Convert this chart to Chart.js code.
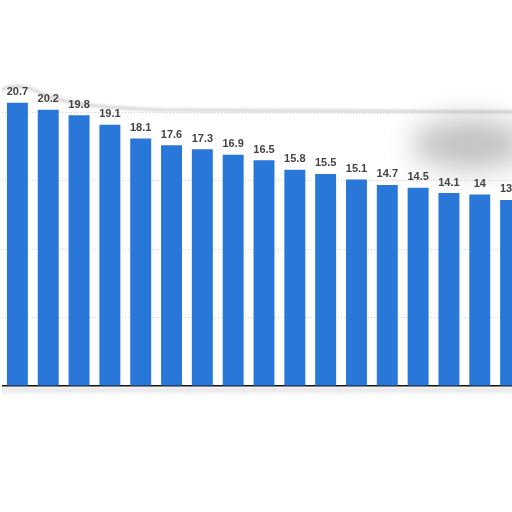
<!DOCTYPE html>
<html>
<head>
<meta charset="utf-8">
<script src="https://cdn.jsdelivr.net/npm/chart.js@4"></script>
<style>
    html, body { margin: 0; padding: 0; background: #fff; overflow: hidden; width: 512px; height: 512px; }
    #wrap { position: absolute; left: 2px; top: 44px; width: 524px; height: 352px; }
</style>
</head>
<body>
<div id="wrap"><canvas id="chart" width="524" height="352"></canvas></div>
<script>
// значения столбцов слева направо (последний обрезан краем картинки)
const categories = ['1', '2', '3', '4', '5', '6', '7', '8', '9', '10', '11', '12', '13', '14', '15', '16', '17']
const values = [20.7, 20.2, 19.8, 19.1, 18.1, 17.6, 17.3, 16.9, 16.5, 15.8, 15.5, 15.1, 14.7, 14.5, 14.1, 14, 13.6]
const yTicks = [0, 5, 10, 15, 20, 25]

const barColor = '#2a77da'

// подписи значений над столбцами
const valueLabels = {
    id: 'valueLabels',
    afterDatasetsDraw(chart) {
        const ctx = chart.ctx
        const meta = chart.getDatasetMeta(0)
        ctx.save()
        ctx.font = 'bold 11px "Liberation Sans", Arial, sans-serif'
        ctx.fillStyle = '#444'
        ctx.textAlign = 'center'
        ctx.textBaseline = 'bottom'
        meta.data.forEach((bar, i) => {
            ctx.fillText(String(values[i]), bar.x, bar.y - 5)
        })
        ctx.restore()
    }
}

// серая размытая тень сверху и под осью (как на исходной картинке)
const smudge = {
    id: 'smudge',
    beforeDraw(chart) {
        const ctx = chart.ctx
        const area = chart.chartArea
        ctx.save()
        ctx.filter = 'blur(1.5px)'
        ctx.strokeStyle = 'rgba(150,150,150,0.5)'
        ctx.lineWidth = 2.5
        ctx.beginPath()
        ctx.moveTo(-2, 46)
        ctx.bezierCurveTo(12, 40, 25, 41, 40, 50)
        ctx.bezierCurveTo(70, 62, 110, 64, 160, 66)
        ctx.lineTo(530, 68)
        ctx.stroke()
        ctx.filter = 'blur(14px)'
        ctx.fillStyle = 'rgba(135,135,135,0.5)'
        ctx.beginPath()
        ctx.ellipse(468, 100, 58, 26, 0, 0, Math.PI * 2)
        ctx.fill()
        ctx.filter = 'blur(2px)'
        ctx.strokeStyle = 'rgba(170,170,170,0.5)'
        ctx.lineWidth = 3
        ctx.beginPath()
        ctx.moveTo(-5, area.bottom + 4)
        ctx.lineTo(530, area.bottom + 4)
        ctx.stroke()
        ctx.restore()
    }
}

const ctx = document.getElementById('chart').getContext('2d')

new Chart(ctx, {
    type: 'bar',
    data: {
        labels: categories,
        datasets: [{
            data: values,
            backgroundColor: barColor,
            barPercentage: 0.68,
            categoryPercentage: 1
        }]
    },
    options: {
        responsive: false,
        animation: false,
        devicePixelRatio: 1,
        layout: { padding: { left: 0, right: 0, top: 0, bottom: 10 } },
        plugins: {
            legend: { display: false },
            tooltip: { enabled: false }
        },
        scales: {
            x: {
                display: true,
                ticks: { display: false },
                grid: { display: false, drawTicks: false },
                border: { display: true, color: '#111', width: 1.5 }
            },
            y: {
                min: 0,
                max: 25,
                afterBuildTicks: (axis) => { axis.ticks = yTicks.map(v => ({ value: v })) },
                ticks: { display: false },
                border: { display: false, dash: [1, 2] },
                grid: {
                    drawTicks: false,
                    color: (c) => {
                        if (!c.tick) return 'transparent'
                        if (c.tick.value === 0 || c.tick.value === 25) return 'transparent'
                        return '#cfcfcf'
                    }
                }
            }
        }
    },
    plugins: [smudge, valueLabels]
})
</script>
</body>
</html>
